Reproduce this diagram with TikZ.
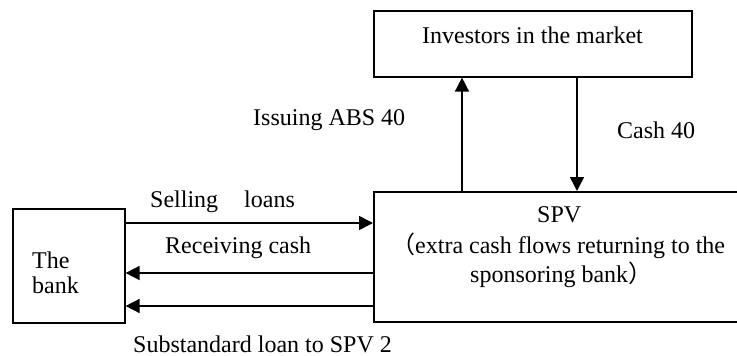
\documentclass[tikz,border=0pt]{standalone}
\usepackage{fontspec}
\setmainfont{Liberation Serif}
\newfontfamily\cjk{Noto Sans CJK SC}
\usetikzlibrary{arrows.meta}
\begin{document}
\begin{tikzpicture}[x=1pt,y=-1pt,
  box/.style={draw,line width=1.6pt,rectangle,inner sep=0pt,anchor=north west},
  lbl/.style={anchor=base west,inner sep=0pt,font=\fontsize{24}{30}\selectfont},
  arr/.style={line width=1.6pt,-{Triangle[length=14pt,width=14pt]}}]
\useasboundingbox (0,0) rectangle (737,356);
% boxes
\node[box,minimum width=318pt,minimum height=66pt] (inv) at (373,10) {};
\node[box,minimum width=112pt,minimum height=114pt] (bank) at (12,208) {};
\node[box,minimum width=372pt,minimum height=130pt] (spv) at (373,191) {};
% texts
\node[lbl] (tinv) at (422,43) {Investors in the market};
\node[lbl] (tbank1) at (32,268) {The};
\node[lbl] (tbank2) at (32,293) {bank};
\node[lbl] (tspv1) at (537,222) {SPV};
\node[lbl] (tspv2) at (391,253) {{\cjk （}extra cash flows returning to the};
\node[lbl] (tspv3) at (470,282) {sponsoring bank{\cjk ）}};
\node[lbl] (tsell) at (150,207) {Selling\hspace{26pt}loans};
\node[lbl] (trec) at (165,253) {Receiving cash};
\node[lbl] (tsub) at (133,352) {Substandard loan to SPV 2};
\node[lbl] (tiss) at (253,125) {Issuing ABS 40};
\node[lbl] (tcash) at (617,138) {Cash 40};
% helper coordinates
\coordinate (ya) at (0,223);
\coordinate (yb) at (0,273);
\coordinate (yc) at (0,306);
\coordinate (xu) at (462,0);
\coordinate (xd) at (577,0);
% connectors
\draw[arr] (bank.east |- ya) -- (spv.west |- ya);
\draw[arr] (spv.west |- yb) -- (bank.east |- yb);
\draw[arr] (spv.west |- yc) -- (bank.east |- yc);
\draw[arr] (xu |- spv.north) -- (xu |- inv.south);
\draw[arr] (xd |- inv.south) -- (xd |- spv.north);
\end{tikzpicture}
\end{document}
